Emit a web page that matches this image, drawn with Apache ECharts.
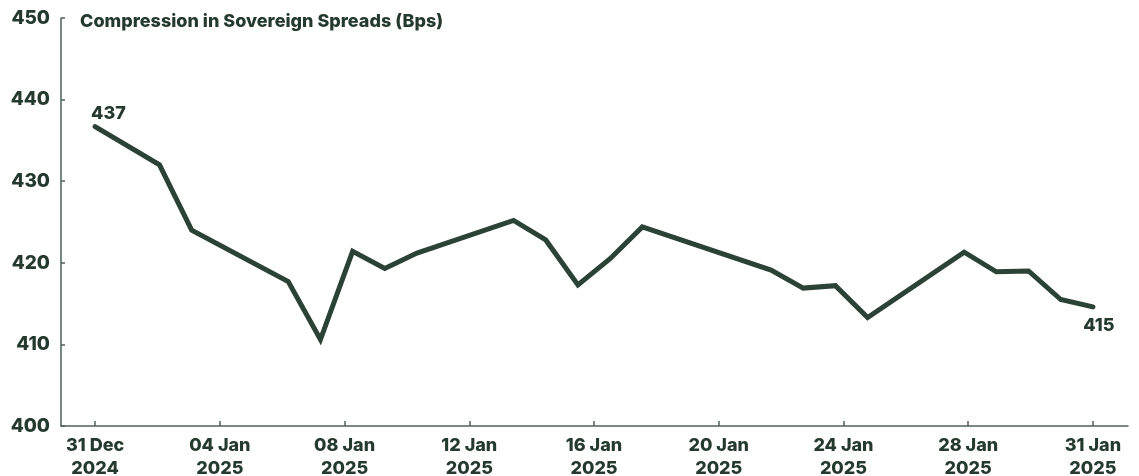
<!DOCTYPE html>
<html>
<head>
<meta charset="utf-8">
<script src="https://cdn.jsdelivr.net/npm/echarts@6/dist/echarts.min.js"></script>
<style>
html,body{margin:0;padding:0;background:#fff;}
#chart{width:1139px;height:476px;}
</style>
</head>
<body>
<div id="chart"></div>
<script>
const titleText = 'Compression in Sovereign Spreads (Bps)';
const dates = ['2024-12-31','2025-01-02','2025-01-03','2025-01-06','2025-01-07','2025-01-08','2025-01-09','2025-01-10',
  '2025-01-13','2025-01-14','2025-01-15','2025-01-16','2025-01-17','2025-01-21','2025-01-22','2025-01-23','2025-01-24',
  '2025-01-27','2025-01-28','2025-01-29','2025-01-30','2025-01-31'];
const spreads = [436.7,432.0,424.0,417.7,410.6,421.4,419.3,421.2,
  425.2,422.8,417.3,420.5,424.4,419.1,416.9,417.2,413.3,
  421.3,418.9,419.0,415.5,414.6];
const xTickLabels = ['31 Dec\n2024','04 Jan\n2025','08 Jan\n2025','12 Jan\n2025','16 Jan\n2025','20 Jan\n2025','24 Jan\n2025','28 Jan\n2025','31 Jan\n2025'];
const yTicks = [400,410,420,430,440,450];

const DAY = 86400000;
const t0 = Date.parse(dates[0]);
const dayOffsets = dates.map(d => (Date.parse(d) - t0) / DAY);
const totalDays = dayOffsets[dayOffsets.length - 1];
const tickStep = totalDays / (xTickLabels.length - 1);
const tickPositions = xTickLabels.map((_, i) => i * tickStep);

const textColor = '#253a2e';
const lineColor = '#2a4336';
const axisColor = '#4f6158';
const fontFamily = 'Inter, "Noto Sans", sans-serif';

const lastIdx = spreads.length - 1;
const seriesData = spreads.map((v, i) => {
  const item = { value: [dayOffsets[i], v] };
  if (i === 0) {
    item.label = { show: true, position: 'top', align: 'left', offset: [-4, 2] };
  } else if (i === lastIdx) {
    item.label = { show: true, position: 'bottom', offset: [6, 4] };
  }
  return item;
});

const chart = echarts.init(document.getElementById('chart'));
chart.setOption({
  animation: false,
  backgroundColor: '#ffffff',
  title: {
    text: titleText,
    left: 75, top: 8,
    textStyle: { color: textColor, fontSize: 18, fontWeight: 800, fontFamily }
  },
  grid: { left: 61, right: 11, top: 18, bottom: 50, containLabel: false, outerBoundsMode: 'none' },
  xAxis: {
    type: 'value',
    min: -1.06, max: totalDays + 1.09,
    splitLine: { show: false },
    axisLine: { show: true, onZero: false, lineStyle: { color: axisColor, width: 1.5 } },
    axisTick: { show: true, inside: true, length: 5, customValues: tickPositions, lineStyle: { color: axisColor, width: 1.5 } },
    axisLabel: {
      customValues: tickPositions,
      color: textColor, fontSize: 18, fontWeight: 800, fontFamily, lineHeight: 23, margin: 8,
      formatter: (val) => xTickLabels[Math.round(val / tickStep)] || ''
    }
  },
  yAxis: {
    type: 'value',
    min: yTicks[0], max: yTicks[yTicks.length - 1], interval: 10,
    splitLine: { show: false },
    axisLine: { show: true, onZero: false, lineStyle: { color: axisColor, width: 1.5 } },
    axisTick: { show: true, inside: true, length: 4, lineStyle: { color: axisColor, width: 1.5 } },
    axisLabel: { color: textColor, fontSize: 19, fontWeight: 800, fontFamily, margin: 11 }
  },
  series: [{
    type: 'line',
    data: seriesData,
    symbol: 'circle',
    symbolSize: 2,
    showSymbol: true,
    itemStyle: { color: lineColor },
    lineStyle: { color: lineColor, width: 5, cap: 'round', join: 'miter' },
    label: {
      show: false,
      color: textColor, fontSize: 18, fontWeight: 800, fontFamily,
      formatter: (p) => Math.round(p.value[1]).toString()
    }
  }]
});
</script>
</body>
</html>
